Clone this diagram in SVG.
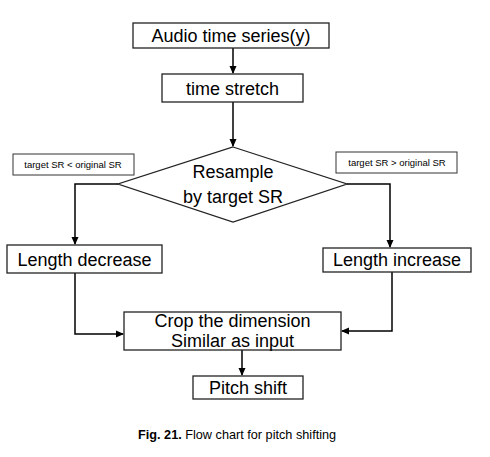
<svg xmlns="http://www.w3.org/2000/svg" width="490" height="457" viewBox="0 0 490 457">
<defs>
<marker id="ah" markerWidth="8" markerHeight="8" refX="7" refY="4" orient="auto" markerUnits="userSpaceOnUse">
<path d="M0,0.5 L8,4 L0,7.5 Z" fill="#000"/>
</marker>
<style>
.box{fill:#fff;stroke:#222;stroke-width:1.3}
.lbl{fill:#fff;stroke:#333;stroke-width:1}
.t{font-family:"Liberation Sans",Arial,sans-serif;font-size:18px;fill:#000;text-anchor:middle}
.s{font-family:"Liberation Sans",Arial,sans-serif;font-size:9.5px;fill:#000;text-anchor:middle}
.c{fill:none;stroke:#000;stroke-width:1.5}
</style>
</defs>
<rect width="490" height="457" fill="#fff"/>
<g id="connectors">
<path class="c" d="M233,48 V73" marker-end="url(#ah)"/>
<path class="c" d="M233,102 V146" marker-end="url(#ah)"/>
<path class="c" d="M118,184 H75 V244" marker-end="url(#ah)"/>
<path class="c" d="M347,184 H390 V247" marker-end="url(#ah)"/>
<path class="c" d="M75,273 V334 H123" marker-end="url(#ah)"/>
<path class="c" d="M392,272 V331 H342" marker-end="url(#ah)"/>
<path class="c" d="M242,350 V375" marker-end="url(#ah)"/>
</g>
<g id="audio">
<rect class="box" x="133" y="23" width="196" height="25"/>
<text class="t" x="231" y="42">Audio time series(y)</text>
</g>
<g id="stretch">
<rect class="box" x="162" y="74" width="141" height="28"/>
<text class="t" x="232.5" y="95">time stretch</text>
</g>
<g id="resample">
<polygon class="box" points="233,147 347,184 233,222 118,184"/>
<text class="t" x="233" y="178">Resample</text>
<text class="t" x="233" y="203">by target SR</text>
</g>
<g id="label-left">
<rect class="lbl" x="13" y="154" width="121" height="21"/>
<text class="s" x="73" y="168">target SR &lt; original SR</text>
</g>
<g id="label-right">
<rect class="lbl" x="336" y="152" width="121" height="21"/>
<text class="s" x="397" y="166">target SR &gt; original SR</text>
</g>
<g id="decrease">
<rect class="box" x="7" y="245" width="155" height="28"/>
<text class="t" x="84.5" y="266">Length decrease</text>
</g>
<g id="increase">
<rect class="box" x="323" y="248" width="148" height="24"/>
<text class="t" x="397" y="266">Length increase</text>
</g>
<g id="crop">
<rect class="box" x="124" y="312" width="217" height="38"/>
<text class="t" x="232.5" y="327">Crop the dimension</text>
<text class="t" x="232.5" y="347">Similar as input</text>
</g>
<g id="pitch">
<rect class="box" x="193" y="376" width="110" height="23"/>
<text class="t" x="248" y="394">Pitch shift</text>
</g>
<text x="138" y="439" font-family="'Liberation Sans',Arial,sans-serif" font-size="12.7" fill="#000"><tspan font-weight="bold">Fig. 21.</tspan> Flow chart for pitch shifting</text>
</svg>
